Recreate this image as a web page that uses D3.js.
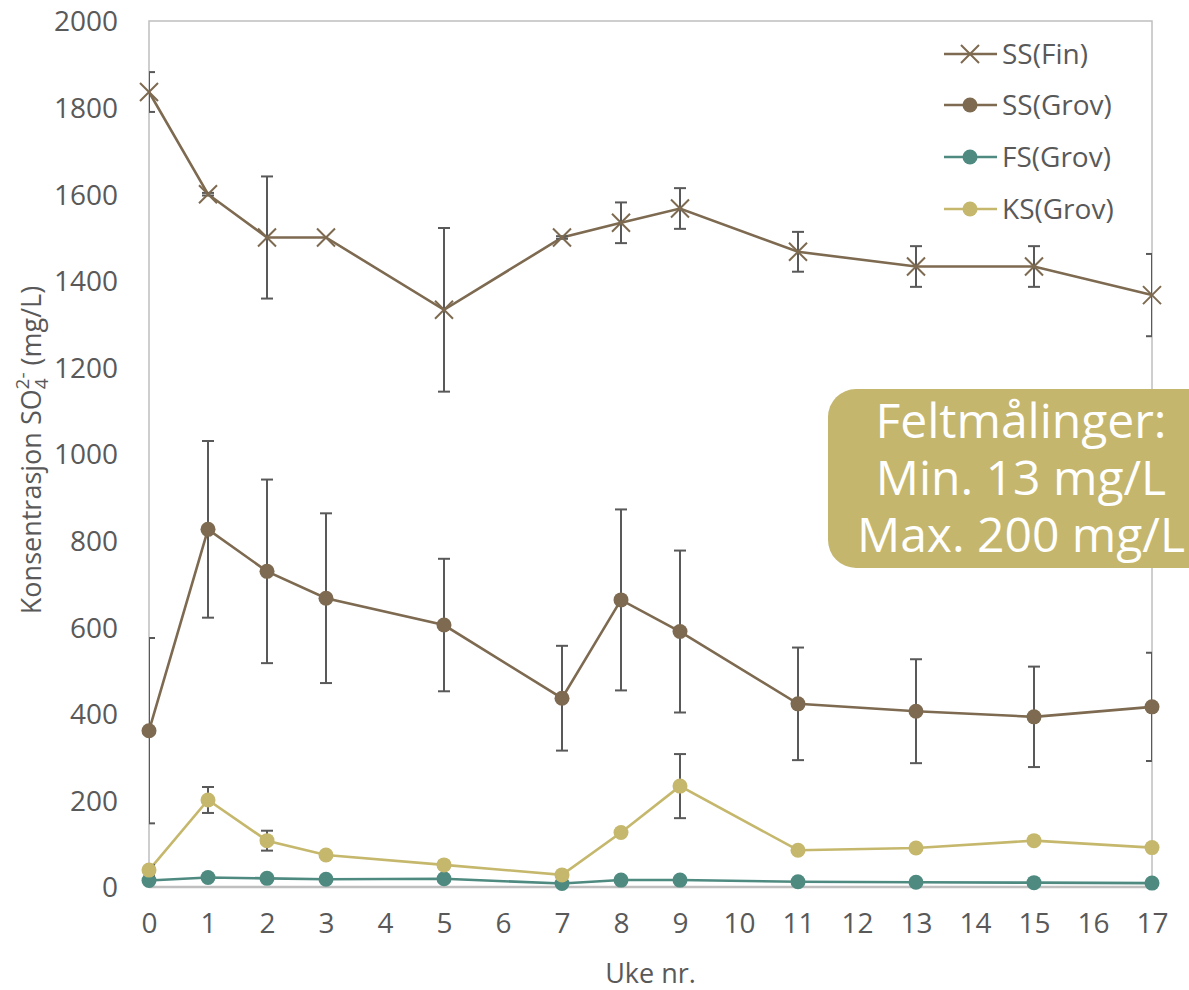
<!DOCTYPE html>
<html>
<head>
<meta charset="utf-8">
<script src="https://cdn.jsdelivr.net/npm/d3@7"></script>
<style>
  html, body { margin: 0; padding: 0; background: #fff; }
  svg { display: block; font-family: "Open Sans", "Noto Sans", sans-serif; }
</style>
</head>
<body>
<svg id="chart" width="1189" height="990"></svg>
<script>
// Sampling weeks
const weeks = [0, 1, 2, 3, 5, 7, 8, 9, 11, 13, 15, 17];

// Sulphate concentration (mg/L) with standard deviations
const ssFin      = [1836, 1600, 1500, 1500, 1333, 1500, 1534, 1567, 1467, 1433, 1433, 1367];
const ssFinErr   = [46, 3, 141, 0, 189, 3, 47, 47, 46, 47, 47, 95];
const ssGrov     = [361, 826, 729, 667, 605, 436, 663, 590, 423, 406, 393, 416];
const ssGrovErr  = [214, 204, 212, 196, 153, 121, 209, 187, 130, 120, 116, 125];
const fsGrov     = [15, 22, 20, 18, 19, 8, 16, 16, 12, 11, 10, 9];
const fsGrovErr  = [0, 0, 0, 0, 0, 0, 0, 0, 0, 0, 0, 0];
const ksGrov     = [39, 201, 107, 74, 51, 28, 126, 233, 85, 90, 107, 91];
const ksGrovErr  = [12, 30, 23, 0, 8, 0, 0, 74, 0, 0, 0, 0];

const seriesNames = ["SS(Fin)", "SS(Grov)", "FS(Grov)", "KS(Grov)"];
const xTicks = d3.range(0, 18);
const yTicks = [0, 200, 400, 600, 800, 1000, 1200, 1400, 1600, 1800, 2000];
const calloutLines = ["Feltmålinger:", "Min. 13 mg/L", "Max. 200 mg/L"];

const series = [
  { name: seriesNames[0], values: ssFin,  err: ssFinErr,  color: "#7d6a50", marker: "x" },
  { name: seriesNames[1], values: ssGrov, err: ssGrovErr, color: "#7d6a50", marker: "circle" },
  { name: seriesNames[2], values: fsGrov, err: fsGrovErr, color: "#4e8a80", marker: "circle" },
  { name: seriesNames[3], values: ksGrov, err: ksGrovErr, color: "#c5b86d", marker: "circle" }
];

const svg = d3.select("#chart");
const plot = { left: 149, right: 1152, top: 21, bottom: 887 };

const x = d3.scaleLinear().domain([0, 17]).range([plot.left, plot.right]);
const y = d3.scaleLinear().domain([0, 2000]).range([plot.bottom, plot.top]);

const textColor = "#595959";
const frameColor = "#bfbfbf";

// Plot frame
svg.append("rect")
  .attr("x", plot.left).attr("y", plot.top)
  .attr("width", plot.right - plot.left).attr("height", plot.bottom - plot.top)
  .attr("fill", "none").attr("stroke", frameColor).attr("stroke-width", 1.5);

// Axes (labels only)
const yAxis = svg.append("g")
  .attr("transform", `translate(${plot.left - 31},0)`)
  .call(d3.axisLeft(y).tickValues(yTicks).tickSize(0).tickPadding(0).tickFormat(d3.format("d")));
yAxis.select(".domain").remove();
yAxis.selectAll("text").attr("fill", textColor).attr("font-size", 28)
  .attr("font-family", "'Open Sans', sans-serif").attr("dy", "0.35em");

const xAxis = svg.append("g")
  .attr("transform", `translate(0,${plot.bottom + 26})`)
  .call(d3.axisBottom(x).tickValues(xTicks).tickSize(0).tickPadding(0).tickFormat(d3.format("d")));
xAxis.select(".domain").remove();
xAxis.selectAll("text").attr("fill", textColor).attr("font-size", 28)
  .attr("font-family", "'Open Sans', sans-serif").attr("dy", "0.71em");

// Bottom axis line over the frame
svg.append("line")
  .attr("x1", plot.left).attr("x2", plot.right)
  .attr("y1", plot.bottom).attr("y2", plot.bottom)
  .attr("stroke", frameColor).attr("stroke-width", 2.5);

// Axis titles
svg.append("text")
  .attr("x", (plot.left + plot.right) / 2).attr("y", 983)
  .attr("text-anchor", "middle").attr("fill", textColor).attr("font-size", 27)
  .text("Uke nr.");

const yTitle = svg.append("text")
  .attr("transform", `translate(41,${(plot.top + plot.bottom) / 2 - 4}) rotate(-90)`)
  .attr("text-anchor", "middle").attr("fill", textColor).attr("font-size", 27);
yTitle.append("tspan").text("Konsentrasjon SO");
yTitle.append("tspan").attr("font-size", 19).attr("dy", 7).text("4");
yTitle.append("tspan").attr("font-size", 19).attr("dx", -11).attr("dy", -19).text("2-");
yTitle.append("tspan").attr("dy", 12).text(" (mg/L)");

// Clip for error bars
svg.append("clipPath").attr("id", "plot-clip")
  .append("rect")
  .attr("x", plot.left).attr("y", plot.top)
  .attr("width", plot.right - plot.left).attr("height", plot.bottom - plot.top);

const line = d3.line().x(d => x(d.w)).y(d => y(d.v));
const capHalf = 6;

series.forEach(s => {
  const pts = weeks.map((w, i) => ({ w, v: s.values[i], e: s.err[i] }));
  const g = svg.append("g");

  g.append("path").datum(pts)
    .attr("d", line).attr("fill", "none")
    .attr("stroke", s.color).attr("stroke-width", 2.6);

  // Error bars
  const eb = g.append("g").attr("clip-path", "url(#plot-clip)")
    .attr("stroke", "#595959").attr("stroke-width", 2).attr("fill", "none");
  pts.filter(p => p.e > 0).forEach(p => {
    const cx = x(p.w), y1 = y(p.v + p.e), y2 = y(p.v - p.e);
    eb.append("line").attr("x1", cx).attr("x2", cx).attr("y1", y1).attr("y2", y2);
    eb.append("line").attr("x1", cx - capHalf).attr("x2", cx + capHalf).attr("y1", y1).attr("y2", y1);
    eb.append("line").attr("x1", cx - capHalf).attr("x2", cx + capHalf).attr("y1", y2).attr("y2", y2);
  });

  // Markers
  if (s.marker === "circle") {
    g.selectAll("circle.m").data(pts).enter().append("circle")
      .attr("cx", d => x(d.w)).attr("cy", d => y(d.v)).attr("r", 7.5)
      .attr("fill", s.color);
  } else {
    const h = 9;
    g.selectAll("path.m").data(pts).enter().append("path")
      .attr("d", d => {
        const cx = x(d.w), cy = y(d.v);
        return `M${cx - h},${cy - h}L${cx + h},${cy + h}M${cx - h},${cy + h}L${cx + h},${cy - h}`;
      })
      .attr("stroke", s.color).attr("stroke-width", 2).attr("fill", "none");
  }
});

// Legend
const legend = svg.append("g");
const legendRows = [54, 105, 157, 209];
series.forEach((s, i) => {
  const ly = legendRows[i];
  legend.append("line").attr("x1", 944).attr("x2", 997).attr("y1", ly).attr("y2", ly)
    .attr("stroke", s.color).attr("stroke-width", 2.6);
  if (s.marker === "circle") {
    legend.append("circle").attr("cx", 970).attr("cy", ly).attr("r", 7.5).attr("fill", s.color);
  } else {
    const h = 9;
    legend.append("path")
      .attr("d", `M${970 - h},${ly - h}L${970 + h},${ly + h}M${970 - h},${ly + h}L${970 + h},${ly - h}`)
      .attr("stroke", s.color).attr("stroke-width", 2).attr("fill", "none");
  }
  legend.append("text").attr("x", 1002).attr("y", ly).attr("dy", "0.35em")
    .attr("fill", textColor).attr("font-size", 28).text(s.name);
});

// Field measurement callout
const callout = svg.append("g");
callout.append("rect")
  .attr("x", 828).attr("y", 389).attr("width", 420).attr("height", 179)
  .attr("rx", 28).attr("ry", 28).attr("fill", "#c4b66d");
callout.selectAll("text").data(calloutLines).enter().append("text")
  .attr("x", 1021).attr("y", (d, i) => 438 + i * 57)
  .attr("text-anchor", "middle").attr("fill", "#ffffff").attr("font-size", 48)
  .text(d => d);
</script>
</body>
</html>
